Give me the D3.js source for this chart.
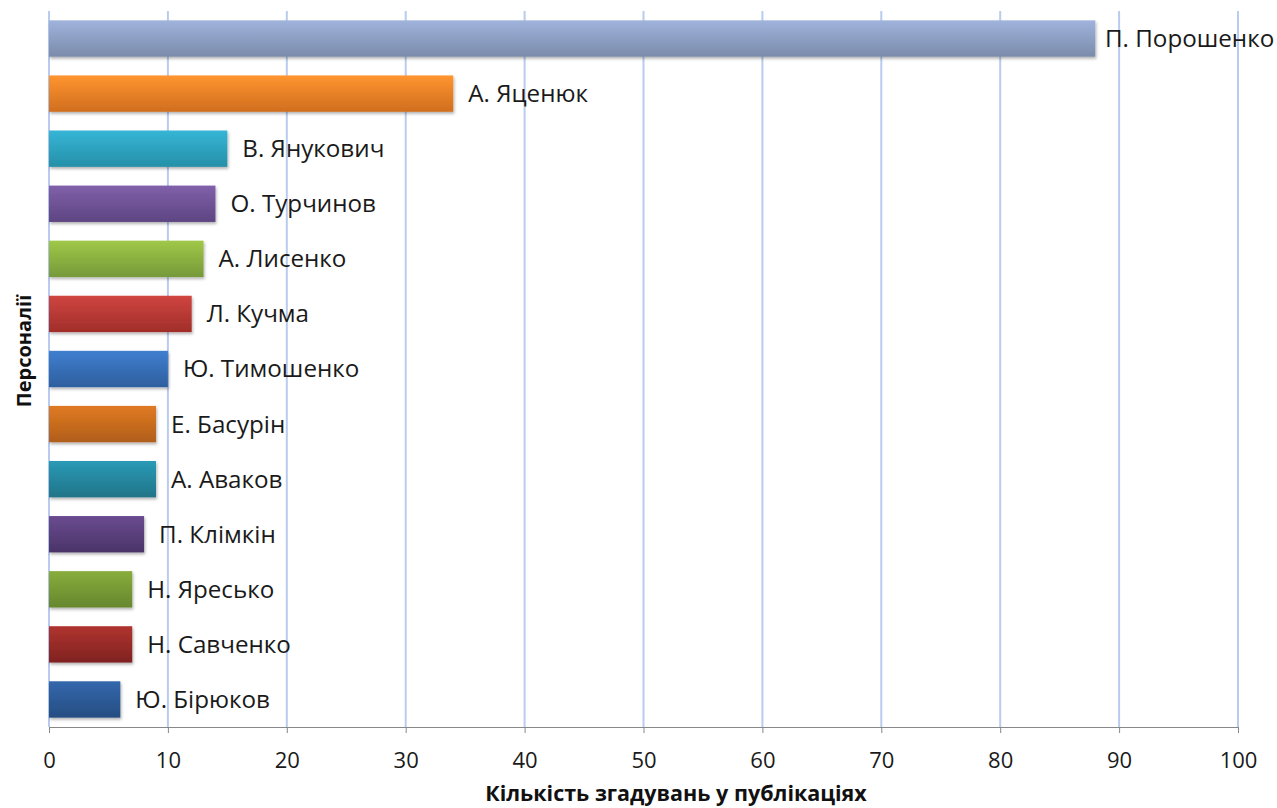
<!DOCTYPE html>
<html><head><meta charset="utf-8">
<script src="https://cdn.jsdelivr.net/npm/d3@7"></script>
<style>body{margin:0;background:#fff;}svg{display:block;font-family:"Open Sans",sans-serif;}</style>
</head><body>
<svg id="c" width="1277" height="808"></svg>
<script>
const names = ["П. Порошенко","А. Яценюк","В. Янукович","О. Турчинов","А. Лисенко","Л. Кучма","Ю. Тимошенко","Е. Басурін","А. Аваков","П. Клімкін","Н. Яресько","Н. Савченко","Ю. Бірюков"];
const values = [88,34,15,14,13,12,10,9,9,8,7,7,6];
const topColors = ["#A0B3DC","#FF9530","#35B5D6","#8060AA","#A0C848","#D04540","#3F7FCF","#E07A22","#2A9AB6","#6A4B90","#88AD3C","#B0342F","#3468AC"];
const bottomColors = ["#7A8BAA","#D06E1E","#2690A8","#5E4582","#76993A","#A02E2A","#2E5F9E","#B05E1A","#207488","#4A3468","#66872E","#7F2220","#254D82"];
const xTicks = [0,10,20,30,40,50,60,70,80,90,100];
const xTitle = "Кількість згадувань у публікаціях";
const yTitle = "Персоналії";

const svg = d3.select("#c");
const x = d3.scaleLinear().domain([0,100]).range([49,1238]);
const y = d3.scaleBand().domain(names).range([11,727]).paddingInner(0.34).paddingOuter(0.17);

const defs = svg.append("defs");
names.forEach((n,i)=>{
  const g = defs.append("linearGradient").attr("id","g"+i).attr("x1",0).attr("y1",0).attr("x2",0).attr("y2",1);
  g.append("stop").attr("offset","0%").attr("stop-color",topColors[i]);
  g.append("stop").attr("offset","100%").attr("stop-color",bottomColors[i]);
});
const f = defs.append("filter").attr("id","sh").attr("x","-5%").attr("y","-20%").attr("width","115%").attr("height","160%");
f.append("feDropShadow").attr("dx",1).attr("dy",2).attr("stdDeviation",1.5).attr("flood-color","#000").attr("flood-opacity",0.3);

// grid
svg.append("g").selectAll("line").data(xTicks).join("line")
  .attr("x1",d=>x(d)).attr("x2",d=>x(d)).attr("y1",11).attr("y2",727)
  .attr("stroke","#B9CBEE").attr("stroke-width",2);

// bars
svg.append("g").selectAll("rect").data(names).join("rect")
  .attr("x",x(0)).attr("y",d=>y(d)).attr("height",y.bandwidth())
  .attr("width",(d,i)=>x(values[i])-x(0))
  .attr("fill",(d,i)=>`url(#g${i})`).attr("filter","url(#sh)");

// labels
svg.append("g").selectAll("text").data(names).join("text")
  .attr("x",(d,i)=>Math.min(x(values[i])+15, 1105)).attr("y",d=>y(d)+y.bandwidth()/2)
  .attr("dy","0.35em").attr("font-size",24.2).attr("fill","#1a1a1a").text(d=>d);

// axis
const ax = svg.append("g").attr("transform","translate(0,727)")
  .call(d3.axisBottom(x).tickValues(xTicks).tickSize(6).tickPadding(19).tickFormat(d3.format("d")));
ax.select(".domain").attr("stroke","#888");
ax.selectAll(".tick line").attr("stroke","#888");
ax.selectAll("text").attr("font-size",22).attr("fill","#1a1a1a").attr("font-family","'Open Sans',sans-serif");

svg.append("text").attr("x",676).attr("y",801).attr("text-anchor","middle")
  .attr("font-weight","bold").attr("font-size",21.5).attr("fill","#111").text(xTitle);
svg.append("text").attr("transform","translate(31,351) rotate(-90)").attr("text-anchor","middle")
  .attr("font-weight","bold").attr("font-size",20).attr("fill","#111").text(yTitle);
</script>
</body></html>
